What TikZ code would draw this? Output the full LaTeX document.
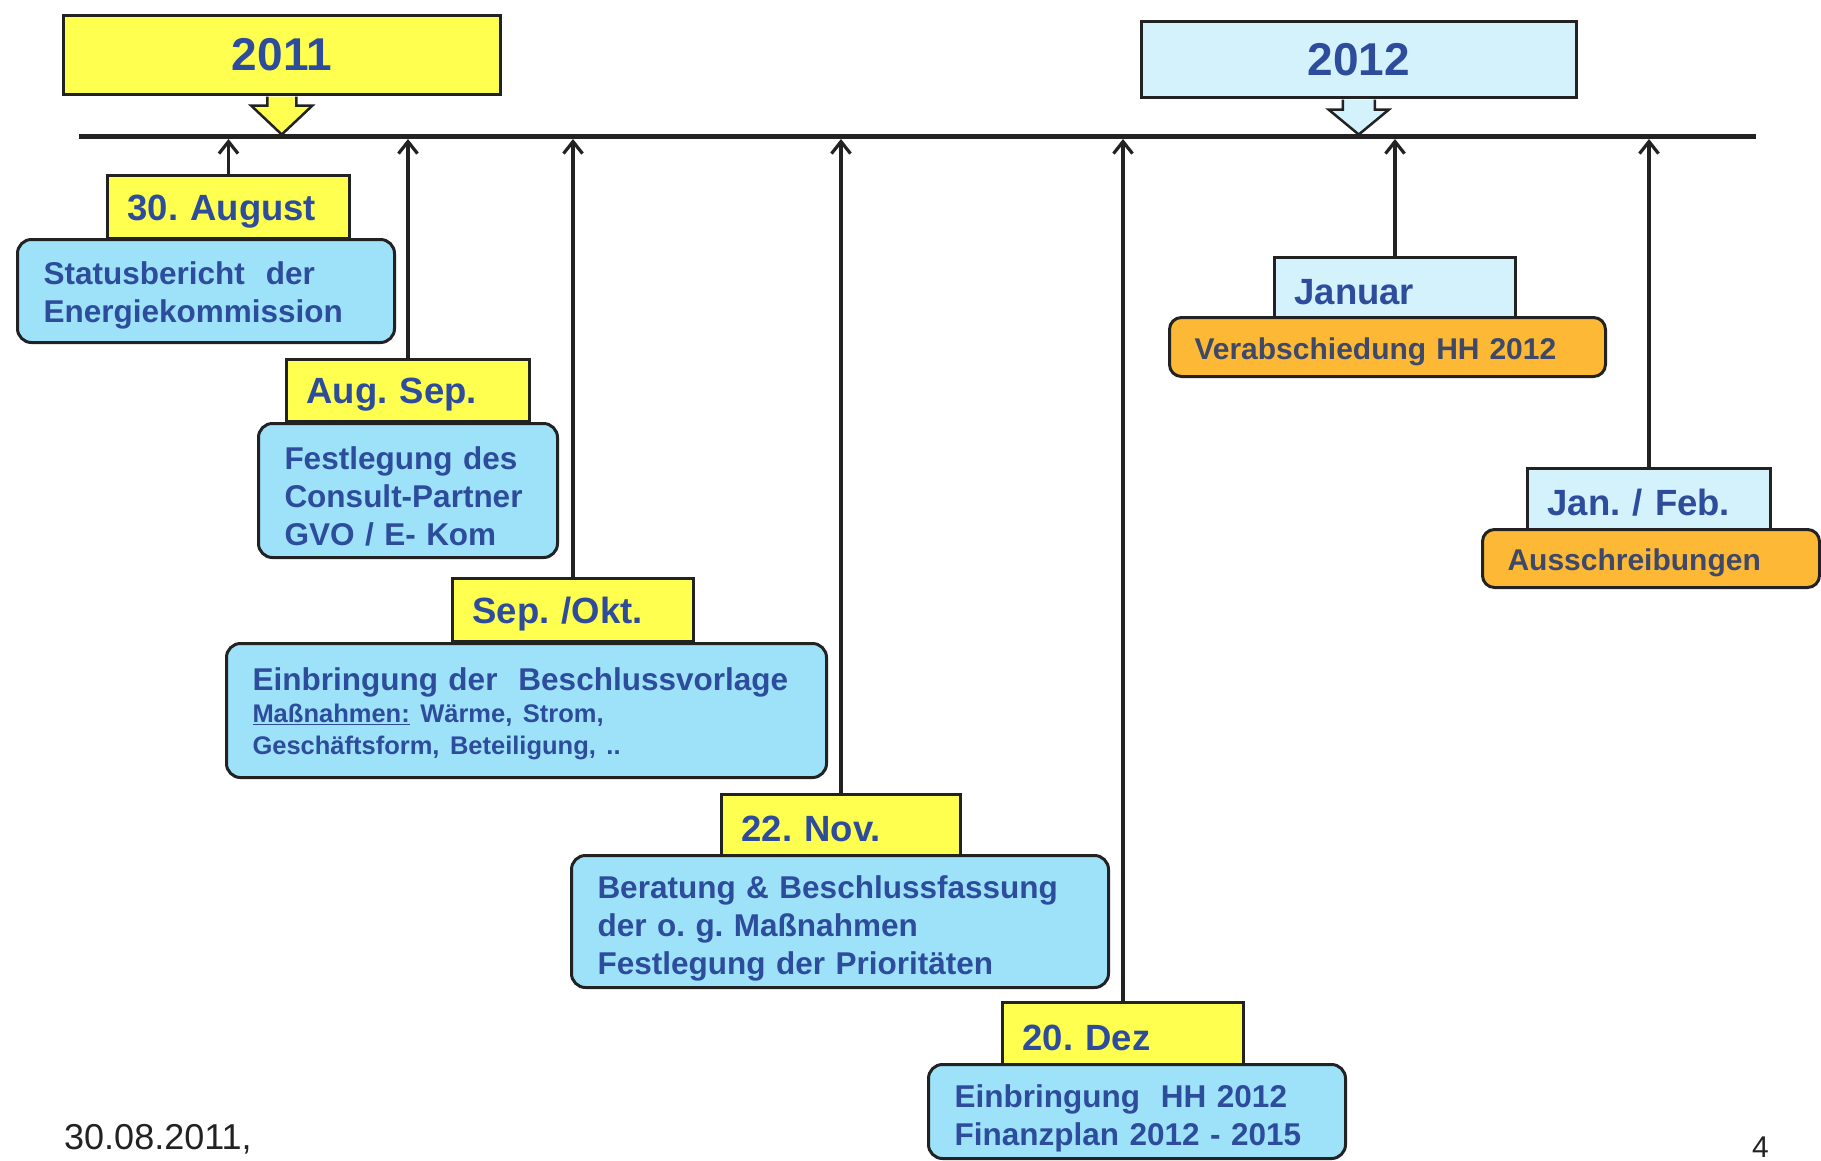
\documentclass[tikz,border=0pt]{standalone}
\usepackage{fontspec}
\setmainfont{Liberation Sans}
\usetikzlibrary{arrows.meta,calc}
\frenchspacing
\definecolor{ylw}{HTML}{FFFF50}
\definecolor{skyb}{HTML}{9DE2F9}
\definecolor{pale}{HTML}{D3F2FB}
\definecolor{orng}{HTML}{FDB936}
\definecolor{txtb}{HTML}{2D4C9C}
\definecolor{txto}{HTML}{3E4868}
\definecolor{ink}{HTML}{222222}
\newcommand{\topstrut}[1]{\rule{0pt}{#1}}
\begin{document}
\begin{tikzpicture}[x=1pt,y=-1pt,
  basebox/.style={draw=ink, line width=3pt, anchor=north west, inner ysep=0pt, align=left, font=\fontsize{31.5}{38}\selectfont\bfseries},
  yearbox/.style={draw=ink, line width=2.5pt, anchor=north west, inner sep=0pt, text=txtb, font=\fontsize{46}{52}\selectfont\bfseries},
  datebox/.style={basebox, fill=ylw, inner xsep=20pt, text=txtb, font=\fontsize{36.5}{42}\selectfont\bfseries},
  palebox/.style={datebox, fill=pale},
  infobox/.style={basebox, fill=skyb, rounded corners=14pt, inner xsep=26pt, text=txtb},
  orbox/.style={basebox, fill=orng, rounded corners=12pt, inner xsep=25pt, text=txto, font=\fontsize{30}{36}\selectfont\bfseries},
  conn/.style={draw=ink, line width=3.2pt, -{Straight Barb[length=12pt,width=19pt]}},
  blockarrow/.style={draw=ink, line width=2.5pt, line join=miter},
  timeline/.style={draw=ink, line width=5pt}
]
\useasboundingbox (0,0) rectangle (1821,1160);
\fill[white] (0,0) rectangle (1821,1160);

% year boxes
\node[yearbox, fill=ylw, minimum width=437pt, minimum height=79pt] (y1) at (62,14) {2011};
\node[yearbox, fill=pale, minimum width=435pt, minimum height=76pt] (y2) at (1140,20) {2012};

% 2011 entries
\node[datebox, minimum width=242pt, minimum height=63pt, text width=202pt] (d1) at (106,174) {\topstrut{34pt}30. August};
\node[infobox, minimum width=377pt, minimum height=103pt, text width=325pt] (b1) at (16,238) {\topstrut{32pt}Statusbericht~ der\par Energiekommission};

\node[datebox, minimum width=243pt, minimum height=62pt, text width=203pt] (d2) at (285,358) {\topstrut{34pt}Aug. Sep.};
\node[infobox, minimum width=299pt, minimum height=134pt, text width=247pt] (b2) at (257,422) {\topstrut{35pt}Festlegung des\par Consult-Partner\par GVO / E- Kom};

\node[datebox, minimum width=241pt, minimum height=63pt, text width=201pt] (d3) at (451,577) {\topstrut{34pt}Sep. /Okt.};
\node[infobox, minimum width=600pt, minimum height=134pt, text width=548pt] (b3) at (225,642) {{\fontsize{31.5}{34}\selectfont\topstrut{30pt}Einbringung der~ Beschlussvorlage\par}{\fontsize{25.5}{32}\selectfont\underline{Maßnahmen:} Wärme, Strom,\par Geschäftsform, Beteiligung, ..\par}};

\node[datebox, minimum width=239pt, minimum height=61pt, text width=199pt] (d4) at (720,793) {\topstrut{34pt}22. Nov.};
\node[infobox, minimum width=537pt, minimum height=132pt, text width=485pt] (b4) at (570,854) {\topstrut{37pt}Beratung \& Beschlussfassung\par der o. g. Maßnahmen\par Festlegung der Prioritäten};

\node[datebox, minimum width=241pt, minimum height=62pt, text width=201pt] (d5) at (1001,1001) {\topstrut{34pt}20. Dez};
\node[infobox, minimum width=417pt, minimum height=94pt, text width=365pt] (b5) at (927,1063) {\topstrut{36pt}Einbringung~ HH 2012\par Finanzplan 2012 - 2015};

% 2012 entries
\node[palebox, minimum width=241pt, minimum height=60pt, text width=201pt] (d6) at (1273,256) {\topstrut{34pt}Januar};
\node[orbox, minimum width=436pt, minimum height=59pt, text width=386pt] (o1) at (1168,316) {\topstrut{31pt}Verabschiedung HH 2012};

\node[palebox, minimum width=243pt, minimum height=61pt, text width=203pt] (d7) at (1526,467) {\topstrut{34pt}Jan. / Feb.};
\node[orbox, minimum width=337pt, minimum height=58pt, text width=287pt] (o2) at (1481,528) {\topstrut{30pt}Ausschreibungen};

% footer
\node[anchor=base west, inner sep=0pt, text=ink, font=\fontsize{36}{42}\selectfont] (foot) at (64,1149) {30.08.2011,};
\node[anchor=base west, inner sep=0pt, text=ink, font=\fontsize{30}{36}\selectfont] (pg) at (1752,1157) {4};

% timeline anchors
\coordinate (tlstart) at (79,136);
\coordinate (tlend) at (1756,136);
\coordinate (tlbase) at (0,139);

% connectors
\foreach \n in {d1,d2,d3,d4,d5,d6,d7}{
  \draw[conn] (\n.north) -- (\n.north |- tlbase);
}

% block arrows
\filldraw[blockarrow, fill=ylw] ($(y1.south)+(-14.5,1.2)$) -- ++(0,9) -- ++(-16,0) -- ($(y1.south)+(0,39)$) -- ($(y1.south)+(30.5,10.2)$) -- ++(-16,0) -- ++(0,-9);
\filldraw[blockarrow, fill=pale] ($(y2.south)+(-16,1.2)$) -- ++(0,10) -- ++(-14,0) -- ($(y2.south)+(0,36)$) -- ($(y2.south)+(30,11.2)$) -- ++(-14,0) -- ++(0,-10);

% timeline
\draw[timeline] (tlstart) -- (tlend);
\end{tikzpicture}
\end{document}
